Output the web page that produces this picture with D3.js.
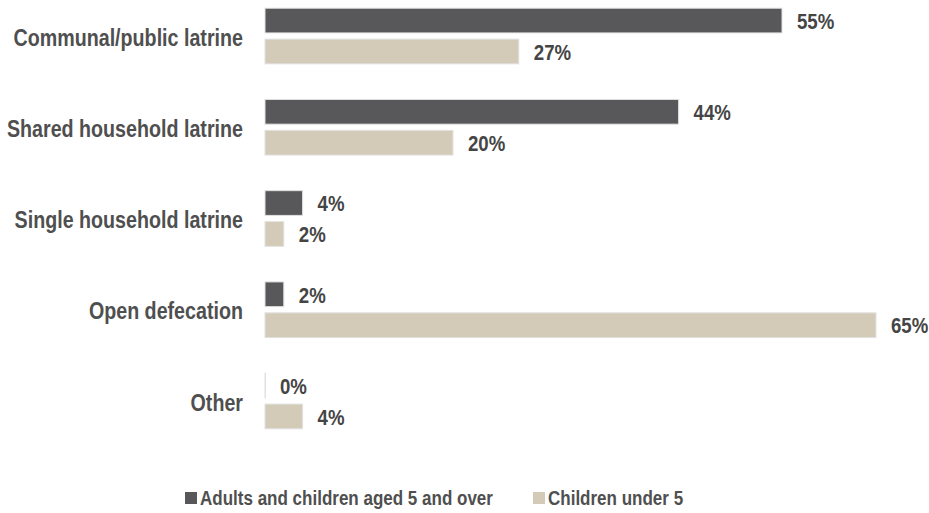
<!DOCTYPE html>
<html>
<head>
<meta charset="utf-8">
<script src="https://cdn.jsdelivr.net/npm/d3@7"></script>
<style>
  body { margin: 0; background: #fff; }
  text { font-family: "Liberation Sans", Arial, sans-serif; font-weight: bold; fill: #454545; }
</style>
</head>
<body>
<div id="chart"></div>
<script>
let categories = ["Communal/public latrine", "Shared household latrine", "Single household latrine", "Open defecation", "Other"]
let seriesNames = ["Adults and children aged 5 and over", "Children under 5"]
let adults = [55, 44, 4, 2, 0]
let under5 = [27, 20, 2, 65, 4]
let colors = ["#58585a", "#d3cbb8"]

let width = 929, height = 513
// no narrow font installed, so squeeze the text horizontally
let squeeze = 0.82

let data = categories.map((c, i) => ({cat: c, values: [adults[i], under5[i]]}))

let svg = d3.select("#chart").append("svg")
  .attr("width", width)
  .attr("height", height)

// x scale: bars start at 265, 55% ends near 782
let x = d3.scaleLinear().domain([0, 55]).range([265, 782])

let y = d3.scaleBand()
  .domain(categories)
  .range([-9.6, 446.6])
  .paddingInner(0.39)
  .paddingOuter(0.195)

let ySub = d3.scaleBand()
  .domain([0, 1])
  .range([0, y.bandwidth()])
  .paddingInner(0.2)

let groups = svg.selectAll(".grp")
  .data(data)
  .enter()
  .append("g")
  .attr("class", "grp")
  .attr("transform", d => "translate(0," + y(d.cat) + ")")

groups.selectAll("rect")
  .data(d => d.values)
  .enter()
  .append("rect")
  .attr("x", x(0))
  .attr("y", (v, j) => ySub(j))
  .attr("width", v => Math.max(x(v) - x(0), 0.5))
  .attr("height", ySub.bandwidth())
  .style("fill", (v, j) => colors[j])
  .style("stroke", "#e2e2e2")
  .style("stroke-width", 1)

groups.selectAll(".val")
  .data(d => d.values)
  .enter()
  .append("text")
  .attr("class", "val")
  .attr("transform", (v, j) => "translate(" + (x(v) + 15) + "," + (ySub(j) + ySub.bandwidth() / 2) + ") scale(0.81,1)")
  .attr("dy", "0.36em")
  .style("font-size", "23px")
  .text(v => v + "%")

// category labels
svg.selectAll(".cat")
  .data(categories)
  .enter()
  .append("text")
  .attr("class", "cat")
  .attr("transform", c => "translate(243," + (y(c) + y.bandwidth() / 2 + 1) + ") scale(" + squeeze + ",1)")
  .attr("dy", "0.36em")
  .attr("text-anchor", "end")
  .style("font-size", "24px")
  .style("fill", "#4f4f4f")
  .text(c => c)

// legend
let legendX = [185, 533]
let legend = svg.selectAll(".leg")
  .data(seriesNames)
  .enter()
  .append("g")
  .attr("class", "leg")
  .attr("transform", (d, i) => "translate(" + legendX[i] + ",498)")

legend.append("rect")
  .attr("x", 0)
  .attr("y", -6)
  .attr("width", 12)
  .attr("height", 12)
  .style("fill", (d, i) => colors[i])

legend.append("text")
  .attr("transform", "translate(15,0) scale(0.83,1)")
  .attr("dy", "0.36em")
  .style("font-size", "20.5px")
  .style("fill", "#4f4f4f")
  .text(d => d)
</script>
</body>
</html>
